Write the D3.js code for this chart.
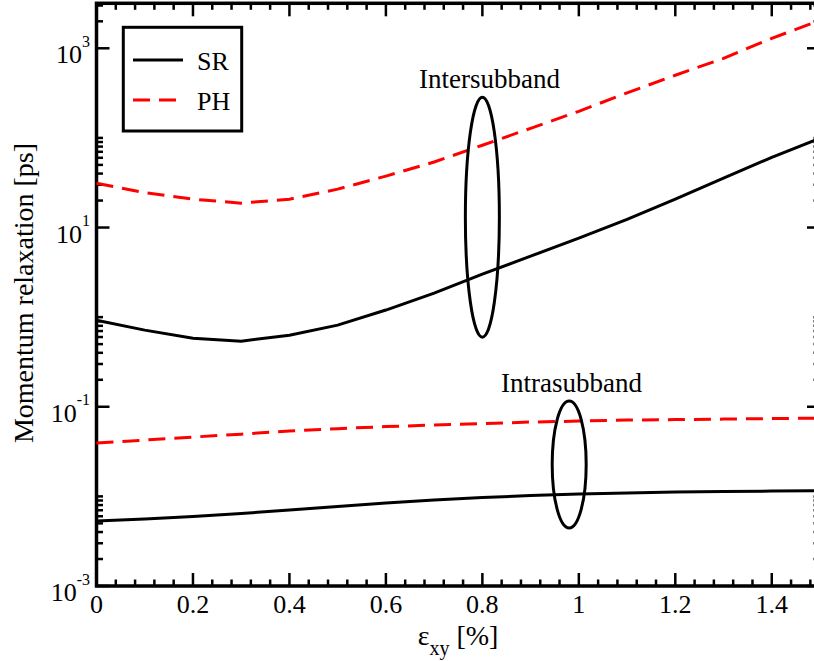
<!DOCTYPE html>
<html><head><meta charset="utf-8">
<script src="https://cdn.jsdelivr.net/npm/d3@7"></script>
<style>body{margin:0;background:#fff;overflow:hidden}svg{display:block}text{font-family:"Liberation Serif","Times New Roman",serif;fill:#000}</style>
</head><body><svg id="c" width="814" height="661"></svg>
<script>
// ---- data ----
const strain = [0,0.1,0.2,0.3,0.4,0.5,0.6,0.7,0.8,0.9,1.0,1.1,1.2,1.3,1.4,1.5];
const interPH = [31.2,24.5,20.7,18.7,20.7,26.8,37.5,53.8,82.8,128,198,318,500,773,1291,2051];
const interSR = [0.925,0.716,0.583,0.540,0.629,0.815,1.20,1.85,3.02,4.79,7.60,12.3,20.7,35.5,60.8,99.1];
const intraPH = [0.0394,0.0425,0.0459,0.0495,0.0536,0.0570,0.0601,0.0625,0.0649,0.0675,0.0692,0.0710,0.0720,0.0728,0.0738,0.0748];
const intraSR = [0.00531,0.00558,0.00596,0.00644,0.00705,0.00771,0.00844,0.00910,0.00971,0.01021,0.01062,0.01089,0.01117,0.01132,0.01146,0.01161];
const xTickLabels = ["0","0.2","0.4","0.6","0.8","1","1.2","1.4"];
const xTickValues = [0,0.2,0.4,0.6,0.8,1.0,1.2,1.4];
const yTickExps = [3,1,-1,-3];
const legendLabels = ["SR","PH"];
const annotations = [
  {text:"Intersubband", x:0.815, y:358, cx:0.8, top:284, bottom:0.598},
  {text:"Intrasubband", x:0.985, y:0.1455, cx:0.98, top:0.1156, bottom:0.00444}
];

const svg = d3.select("#c");
const L=96.5, R=820, T=3.3, B=586;
const x = d3.scaleLinear().domain([0,1.5]).range([L,R]);
const y = d3.scaleLog().domain([1e-3, Math.pow(10,3.502)]).range([B,T]);

// ticks
const xMinor = d3.range(0,1.5001,0.04).filter(v=>!xTickValues.some(m=>Math.abs(m-v)<1e-6));
const yMinor = [];
yTickExps.forEach(e=>{for(let k=2;k<=10;k++){const v=k*Math.pow(10,e); if(v<=y.domain()[1]) yMinor.push(v);}});
const g = svg.append("g");
const MAJ=13, MIN=6.5;
function tk(x1,y1,x2,y2){g.append("line").attr("x1",x1).attr("y1",y1).attr("x2",x2).attr("y2",y2).attr("stroke","#000").attr("stroke-width",2.5);}
xTickValues.forEach(v=>{tk(x(v),B,x(v),B-MAJ);tk(x(v),T,x(v),T+MAJ);});
xMinor.forEach(v=>{tk(x(v),B,x(v),B-MIN);tk(x(v),T,x(v),T+MIN);});
yTickExps.forEach(e=>{const v=Math.pow(10,e);tk(L,y(v),L+MAJ,y(v));tk(R,y(v),R-MAJ,y(v));});
yMinor.forEach(v=>{tk(L,y(v),L+MIN,y(v));tk(R,y(v),R-MIN,y(v));});
// frame
g.append("rect").attr("x",L).attr("y",T).attr("width",R-L).attr("height",B-T).attr("fill","none").attr("stroke","#000").attr("stroke-width",3.5);

// tick labels
xTickValues.forEach((v,i)=>{g.append("text").attr("x",x(v)).attr("y",613).attr("text-anchor","middle").attr("font-size",26).text(xTickLabels[i]);});
yTickExps.forEach(e=>{
  const t=g.append("text").attr("x",90).attr("y",y(Math.pow(10,e))+15).attr("text-anchor","end").attr("font-size",26);
  t.append("tspan").text("10");
  t.append("tspan").attr("font-size",16).attr("dy",-16.5).text(String(e));
});

// axis titles
const xt=g.append("text").attr("x",458).attr("y",645).attr("text-anchor","middle").attr("font-size",28);
xt.append("tspan").text("ε");
xt.append("tspan").attr("font-size",20).attr("dy",10).text("xy");
xt.append("tspan").attr("dy",-10).text(" [%]");
g.append("text").attr("transform","translate(33,293) rotate(-90)").attr("text-anchor","middle").attr("font-size",28).text("Momentum relaxation [ps]");

// lines
const line = d3.line().x((d,i)=>x(strain[i])).y(d=>y(d));
const series=[{d:interPH,c:"#ff0000",dash:"17,9"},{d:interSR,c:"#000",dash:null},{d:intraPH,c:"#ff0000",dash:"17,9"},{d:intraSR,c:"#000",dash:null}];
series.forEach(s=>{g.append("path").attr("d",line(s.d)).attr("fill","none").attr("stroke",s.c).attr("stroke-width",3).attr("stroke-dasharray",s.dash);});

// annotations
annotations.forEach(a=>{
  const cy=(y(a.top)+y(a.bottom))/2, ry=(y(a.bottom)-y(a.top))/2;
  g.append("ellipse").attr("cx",x(a.cx)).attr("cy",cy).attr("rx",17).attr("ry",ry).attr("fill","none").attr("stroke","#000").attr("stroke-width",3);
  g.append("text").attr("x",x(a.x)).attr("y",y(a.y)).attr("text-anchor","middle").attr("font-size",27).text(a.text);
});

// legend
g.append("rect").attr("x",123.3).attr("y",27.3).attr("width",118.4).attr("height",103.7).attr("fill","#fff").attr("stroke","#000").attr("stroke-width",3);
const lg=[{c:"#000",dash:null,y:60},{c:"#ff0000",dash:"17,9",y:100}];
lg.forEach((l,i)=>{
  g.append("line").attr("x1",133).attr("x2",183).attr("y1",l.y).attr("y2",l.y).attr("stroke",l.c).attr("stroke-width",3).attr("stroke-dasharray",l.dash);
  g.append("text").attr("x",197).attr("y",l.y+10).attr("font-size",26).text(legendLabels[i]);
});
</script></body></html>
